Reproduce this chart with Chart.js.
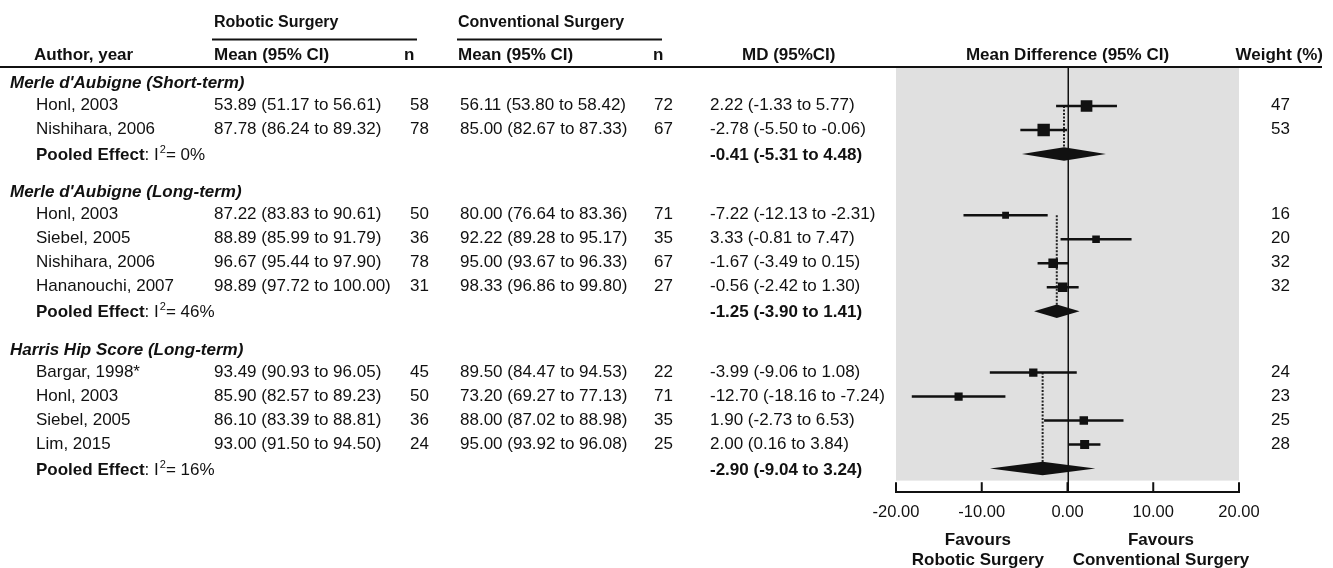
<!DOCTYPE html>
<html><head><meta charset="utf-8">
<script src="https://cdn.jsdelivr.net/npm/chart.js@4"></script>
<style>html,body{margin:0;padding:0;background:#fff;}canvas{display:block;}</style>
</head><body>
<canvas id="c" width="1333" height="568"></canvas>
<script>
// ---------------- DATA ----------------
const groupNames = ["Merle d'Aubigne (Short-term)", "Merle d'Aubigne (Long-term)", "Harris Hip Score (Long-term)"];
const studyGroup = [0, 0, 1, 1, 1, 1, 2, 2, 2, 2];
const authors = ["Honl, 2003", "Nishihara, 2006", "Honl, 2003", "Siebel, 2005", "Nishihara, 2006", "Hananouchi, 2007", "Bargar, 1998*", "Honl, 2003", "Siebel, 2005", "Lim, 2015"];
const robMean = [53.89, 87.78, 87.22, 88.89, 96.67, 98.89, 93.49, 85.90, 86.10, 93.00];
const robLo   = [51.17, 86.24, 83.83, 85.99, 95.44, 97.72, 90.93, 82.57, 83.39, 91.50];
const robHi   = [56.61, 89.32, 90.61, 91.79, 97.90, 100.00, 96.05, 89.23, 88.81, 94.50];
const robN    = [58, 78, 50, 36, 78, 31, 45, 50, 36, 24];
const conMean = [56.11, 85.00, 80.00, 92.22, 95.00, 98.33, 89.50, 73.20, 88.00, 95.00];
const conLo   = [53.80, 82.67, 76.64, 89.28, 93.67, 96.86, 84.47, 69.27, 87.02, 93.92];
const conHi   = [58.42, 87.33, 83.36, 95.17, 96.33, 99.80, 94.53, 77.13, 88.98, 96.08];
const conN    = [72, 67, 71, 35, 67, 27, 22, 71, 35, 25];
const md      = [2.22, -2.78, -7.22, 3.33, -1.67, -0.56, -3.99, -12.70, 1.90, 2.00];
const mdLo    = [-1.33, -5.50, -12.13, -0.81, -3.49, -2.42, -9.06, -18.16, -2.73, 0.16];
const mdHi    = [5.77, -0.06, -2.31, 7.47, 0.15, 1.30, 1.08, -7.24, 6.53, 3.84];
const weight  = [47, 53, 16, 20, 32, 32, 24, 23, 25, 28];
const pooledMd = [-0.41, -1.25, -2.90];
const pooledLo = [-5.31, -3.90, -9.04];
const pooledHi = [4.48, 1.41, 3.24];
const pooledI2 = [0, 46, 16];
const xTickValues = [-20, -10, 0, 10, 20];

// ---------------- ROW LAYOUT (row index units) ----------------
const headerPos = [], studyPos = [], pooledPos = [];
(function () {
  let p = 0;
  for (let g = 0; g < groupNames.length; g++) {
    headerPos[g] = p; p += 1;
    for (let i = 0; i < authors.length; i++) if (studyGroup[i] === g) { studyPos[i] = p; p += 1; }
    pooledPos[g] = p; p += 1.55;
  }
})();
const lastRow = pooledPos[pooledPos.length - 1];

const FONT = '"Liberation Sans", Arial, Helvetica, sans-serif';
const INK = '#111';
const f2 = v => v.toFixed(2);

// ---------------- DATASETS ----------------
const datasets = [];
// dotted pooled reference lines
for (let g = 0; g < groupNames.length; g++) {
  const first = studyPos[studyGroup.indexOf(g)];
  datasets.push({
    type: 'line', data: [{x: pooledMd[g], y: first}, {x: pooledMd[g], y: pooledPos[g]}],
    borderColor: '#222', borderWidth: 2, borderDash: [2, 1.5], pointRadius: 0, showLine: true, order: 5
  });
}
// CI lines
for (let i = 0; i < authors.length; i++) {
  datasets.push({
    type: 'line', data: [{x: mdLo[i], y: studyPos[i]}, {x: mdHi[i], y: studyPos[i]}],
    borderColor: INK, borderWidth: 2.5, pointRadius: 0, showLine: true, order: 4
  });
}
// squares
datasets.push({
  type: 'scatter',
  data: md.map((v, i) => ({x: v, y: studyPos[i]})),
  pointStyle: 'rect', backgroundColor: INK, borderWidth: 0,
  pointRadius: ctx => 1.7 * Math.sqrt(weight[ctx.dataIndex]) / (2 * Math.SQRT1_2),
  order: 1
});

// ---------------- PLUGINS ----------------
const forestPlugin = {
  id: 'forest',
  beforeDatasetsDraw(chart) {
    const {ctx, chartArea: a, scales: {x, y}} = chart;
    ctx.save();
    const gBottom = y.getPixelForValue(lastRow + 0.5);
    ctx.fillStyle = '#e0e0e0';
    ctx.fillRect(a.left, a.top, a.right - a.left, gBottom - a.top);
    // zero line
    ctx.strokeStyle = INK; ctx.lineWidth = 1.5;
    const x0 = Math.round(x.getPixelForValue(0)) + 0.25;
    ctx.beginPath(); ctx.moveTo(x0, a.top); ctx.lineTo(x0, a.bottom); ctx.stroke();
    // upward tick marks
    ctx.lineWidth = 2;
    xTickValues.forEach(v => {
      const px = x.getPixelForValue(v);
      ctx.beginPath(); ctx.moveTo(px, a.bottom); ctx.lineTo(px, a.bottom - 10); ctx.stroke();
    });
    ctx.restore();
  },
  afterDatasetsDraw(chart) {
    const {ctx, scales: {x, y}} = chart;
    ctx.save();
    ctx.fillStyle = INK;
    for (let g = 0; g < groupNames.length; g++) {
      const yy = y.getPixelForValue(pooledPos[g]);
      const xl = x.getPixelForValue(pooledLo[g]), xm = x.getPixelForValue(pooledMd[g]), xr = x.getPixelForValue(pooledHi[g]);
      ctx.beginPath();
      ctx.moveTo(xl, yy); ctx.lineTo(xm, yy - 6.75); ctx.lineTo(xr, yy); ctx.lineTo(xm, yy + 6.75); ctx.closePath();
      ctx.fill();
    }
    ctx.restore();
  },
  afterDraw(chart) {
    const {ctx, scales: {x, y}} = chart;
    ctx.save();
    ctx.fillStyle = INK; ctx.strokeStyle = INK;
    ctx.textBaseline = 'alphabetic';
    const B = (s, w) => (w || 'bold') + ' ' + s + 'px ' + FONT;
    const txt = (t, px, py, font, align) => { ctx.font = font; ctx.textAlign = align || 'left'; ctx.fillText(t, px, py); };
    // spanning headers
    txt('Robotic Surgery', 214, 27, B(16));
    txt('Conventional Surgery', 458, 27, B(16));
    ctx.lineWidth = 2;
    ctx.beginPath(); ctx.moveTo(212, 39.5); ctx.lineTo(417, 39.5); ctx.stroke();
    ctx.beginPath(); ctx.moveTo(457, 39.5); ctx.lineTo(662, 39.5); ctx.stroke();
    // column headers
    const hy = 60;
    txt('Author, year', 34, hy, B(17));
    txt('Mean (95% CI)', 214, hy, B(17));
    txt('n', 404, hy, B(17));
    txt('Mean (95% CI)', 458, hy, B(17));
    txt('n', 653, hy, B(17));
    txt('MD (95%CI)', 742, hy, B(17));
    txt('Mean Difference (95% CI)', x.getPixelForValue(0), hy, B(17), 'center');
    txt('Weight (%)', 1323, hy, B(17), 'right');
    ctx.lineWidth = 2;
    ctx.beginPath(); ctx.moveTo(0, 67); ctx.lineTo(1322, 67); ctx.stroke();

    const N = '17px ' + FONT;
    for (let g = 0; g < groupNames.length; g++) {
      const gy = y.getPixelForValue(headerPos[g]) + 6;
      txt(groupNames[g], 10, gy, 'italic bold 17px ' + FONT);
      // pooled row
      const py = y.getPixelForValue(pooledPos[g]) + 6;
      let cx = 36;
      ctx.font = B(17); ctx.textAlign = 'left'; ctx.fillText('Pooled Effect', cx, py); cx += ctx.measureText('Pooled Effect').width;
      ctx.font = N; ctx.fillText(': I', cx, py); cx += ctx.measureText(': I').width + 1;
      ctx.font = '11px ' + FONT; ctx.fillText('2', cx, py - 7); cx += ctx.measureText('2').width;
      ctx.font = N; ctx.fillText('= ' + pooledI2[g] + '%', cx, py);
      txt(f2(pooledMd[g]) + ' (' + f2(pooledLo[g]) + ' to ' + f2(pooledHi[g]) + ')', 710, py, B(17));
    }
    for (let i = 0; i < authors.length; i++) {
      const sy = y.getPixelForValue(studyPos[i]) + 4;
      txt(authors[i], 36, sy, N);
      txt(f2(robMean[i]) + ' (' + f2(robLo[i]) + ' to ' + f2(robHi[i]) + ')', 214, sy, N);
      txt(String(robN[i]), 410, sy, N);
      txt(f2(conMean[i]) + ' (' + f2(conLo[i]) + ' to ' + f2(conHi[i]) + ')', 460, sy, N);
      txt(String(conN[i]), 654, sy, N);
      txt(f2(md[i]) + ' (' + f2(mdLo[i]) + ' to ' + f2(mdHi[i]) + ')', 710, sy, N);
      txt(String(weight[i]), 1290, sy, N, 'right');
    }
    // favours labels
    const lx = x.getPixelForValue(-10.45), rx = x.getPixelForValue(10.9);
    txt('Favours', lx, 545, B(17), 'center');
    txt('Robotic Surgery', lx, 565, B(17), 'center');
    txt('Favours', rx, 545, B(17), 'center');
    txt('Conventional Surgery', rx, 565, B(17), 'center');
    ctx.restore();
  }
};

new Chart(document.getElementById('c'), {
  type: 'scatter',
  data: {datasets},
  options: {
    responsive: false, animation: false, devicePixelRatio: 1,
    layout: {padding: {left: 896, right: 94, top: 67, bottom: 36}},
    plugins: {legend: {display: false}, tooltip: {enabled: false}},
    scales: {
      x: {
        type: 'linear', min: -20, max: 20,
        afterBuildTicks: s => { s.ticks = xTickValues.map(v => ({value: v})); },
        ticks: {callback: v => Number(v).toFixed(2), font: {family: FONT, size: 16.5}, color: INK, padding: 10, maxRotation: 0, autoSkip: false},
        grid: {display: false, drawTicks: false},
        border: {display: true, color: INK, width: 2}
      },
      y: {
        type: 'linear', display: false, reverse: true,
        min: -0.625, max: -0.625 + 425 / 24
      }
    }
  },
  plugins: [forestPlugin]
});
</script>
</body></html>
